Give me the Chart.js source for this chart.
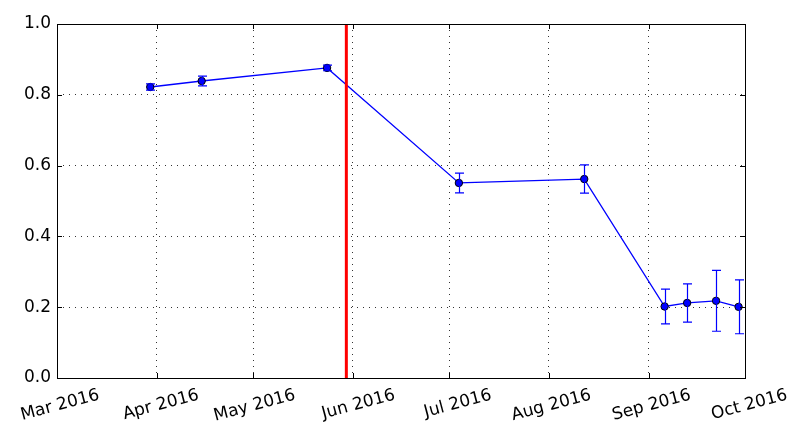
<!DOCTYPE html>
<html>
<head>
<meta charset="utf-8">
<script src="https://cdn.jsdelivr.net/npm/chart.js@4"></script>
<style>
  body { margin: 0; background: #fff; }
  #wrap { width: 791px; height: 429px; }
</style>
</head>
<body>
<div id="wrap"><canvas id="grafik"></canvas></div>
<script>
// data
const tanggal = ['2016-03-30', '2016-04-15', '2016-05-24', '2016-07-04', '2016-08-12',
                 '2016-09-06', '2016-09-13', '2016-09-22', '2016-09-29'];
const nilai = [0.822, 0.839, 0.876, 0.551, 0.562, 0.202, 0.212, 0.218, 0.201];
const galat = [0.009, 0.014, 0.008, 0.028, 0.040, 0.049, 0.054, 0.086, 0.076];
const garisMerah = '2016-05-30';

const bulanTanggal = ['2016-03-01', '2016-04-01', '2016-05-01', '2016-06-01',
                      '2016-07-01', '2016-08-01', '2016-09-01', '2016-10-01'];
const bulanLabel = ['Mar 2016', 'Apr 2016', 'May 2016', 'Jun 2016',
                    'Jul 2016', 'Aug 2016', 'Sep 2016', 'Oct 2016'];
const yTicks = [0, 0.2, 0.4, 0.6, 0.8, 1.0];

// hari sejak 1 Maret 2016
const awal = Date.UTC(2016, 2, 1);
function hari(s) {
    const p = s.split('-');
    return (Date.UTC(+p[0], +p[1] - 1, +p[2]) - awal) / 86400000;
}
const bulanHari = bulanTanggal.map(hari);

const titik = tanggal.map((t, i) => ({ x: hari(t), y: nilai[i] }));

// plugin: error bar, bingkai, tick ke dalam
const ekstra = {
    id: 'ekstra',
    afterDatasetsDraw(chart) {
        const ctx = chart.ctx;
        const xs = chart.scales.x, ys = chart.scales.y;
        ctx.save();
        ctx.strokeStyle = '#0000ff';
        ctx.lineWidth = 1.2;
        titik.forEach((p, i) => {
            const px = Math.round(xs.getPixelForValue(p.x)) + 0.5;
            const y1 = ys.getPixelForValue(p.y - galat[i]);
            const y2 = ys.getPixelForValue(p.y + galat[i]);
            ctx.beginPath();
            ctx.moveTo(px, y1); ctx.lineTo(px, y2);
            ctx.moveTo(px - 4.5, y1); ctx.lineTo(px + 4.5, y1);
            ctx.moveTo(px - 4.5, y2); ctx.lineTo(px + 4.5, y2);
            ctx.stroke();
        });
        ctx.restore();
    },
    afterDraw(chart) {
        const ctx = chart.ctx;
        const a = chart.chartArea;
        const xs = chart.scales.x, ys = chart.scales.y;
        ctx.save();
        ctx.strokeStyle = '#000';
        ctx.lineWidth = 1;
        ctx.beginPath();
        bulanHari.forEach(d => {
            const px = Math.round(xs.getPixelForValue(d)) + 0.5;
            ctx.moveTo(px, a.bottom); ctx.lineTo(px, a.bottom - 5);
            ctx.moveTo(px, a.top); ctx.lineTo(px, a.top + 5);
        });
        yTicks.forEach(v => {
            const py = Math.round(ys.getPixelForValue(v)) + 0.5;
            ctx.moveTo(a.left, py); ctx.lineTo(a.left + 5, py);
            ctx.moveTo(a.right, py); ctx.lineTo(a.right - 5, py);
        });
        ctx.stroke();
        ctx.strokeRect(Math.round(a.left) + 0.5, Math.round(a.top) + 0.5,
                       Math.round(a.right - a.left), Math.round(a.bottom - a.top));
        ctx.restore();
    }
};

const ctx = document.getElementById('grafik').getContext('2d');
const myChart = new Chart(ctx, {
    type: 'scatter',
    data: {
        datasets: [{
            data: titik,
            showLine: true,
            borderColor: '#0000ff',
            borderWidth: 1.3,
            backgroundColor: '#0000ff',
            pointBorderColor: '#000',
            pointBorderWidth: 1,
            pointRadius: 3.7,
            order: 2
        }, {
            data: [{ x: hari(garisMerah), y: 0 }, { x: hari(garisMerah), y: 1 }],
            showLine: true,
            borderColor: '#ff0000',
            borderWidth: 3,
            pointRadius: 0,
            order: 1
        }]
    },
    options: {
        responsive: true,
        maintainAspectRatio: false,
        animation: false,
        layout: { padding: { left: 0, top: 24, right: 46, bottom: 0 } },
        plugins: { legend: { display: false }, tooltip: { enabled: false } },
        scales: {
            x: {
                type: 'linear',
                min: 0,
                max: bulanHari[bulanHari.length - 1],
                afterBuildTicks(scale) {
                    scale.ticks = bulanHari.map(v => ({ value: v }));
                },
                afterFit(scale) {
                    scale.height = 51;
                    scale.paddingLeft = 0;
                    scale.paddingRight = 0;
                },
                ticks: {
                    autoSkip: false,
                    minRotation: 15,
                    maxRotation: 15,
                    labelOffset: 42,
                    padding: 7,
                    color: '#000',
                    font: { family: 'DejaVu Sans', size: 17 },
                    callback: (v) => {
                        const i = bulanHari.indexOf(v);
                        return i >= 0 ? bulanLabel[i] : '';
                    }
                },
                grid: {
                    color: '#333',
                    lineWidth: 1,
                    drawTicks: false
                },
                border: { display: false, dash: [1, 5] }
            },
            y: {
                min: 0,
                max: 1,
                afterBuildTicks(scale) {
                    scale.ticks = yTicks.map(v => ({ value: v }));
                },
                afterFit(scale) {
                    scale.width = 57;
                },
                ticks: {
                    padding: 6,
                    color: '#000',
                    font: { family: 'DejaVu Sans', size: 17 },
                    callback: (v) => v.toFixed(1)
                },
                grid: {
                    color: '#333',
                    lineWidth: 1,
                    drawTicks: false
                },
                border: { display: false, dash: [1, 5] }
            }
        }
    },
    plugins: [ekstra]
});
</script>
</body>
</html>
